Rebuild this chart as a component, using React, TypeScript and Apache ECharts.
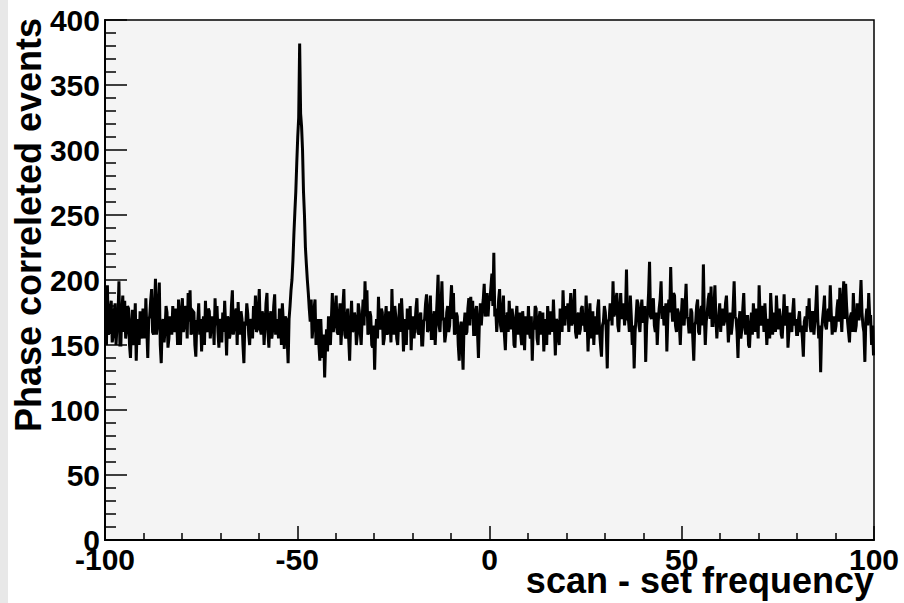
import React, { useEffect, useRef } from "react";
import * as echarts from "echarts";

const X_MIN = -100;
const X_MAX = 100;
const Y_MIN = 0;
const Y_MAX = 400;
const BIN_START = -100;
const BIN_WIDTH = 0.25;
const X_TICK_STEP = 50;
const Y_TICK_STEP = 50;
const X_TITLE = "scan - set frequency";
const Y_TITLE = "Phase correleted events";

// counts per 0.25-wide bin (10 x-units per row)
const rowA = [172,150,196,158,160,178,184,152,158,175,182,150,165,172,199,150,150,176,188,160,184,155,162,180,178,150,140,165,177,150,158,182,138,165,170,150,176,162,155,178];
const rowB = [168,155,186,162,140,170,172,184,193,160,158,178,201,158,165,182,198,150,136,165,170,152,162,180,175,148,155,172,168,158,180,164,160,178,172,150,185,166,150,175];
const rowC = [186,160,165,180,178,155,190,168,192,158,160,176,175,150,141,168,168,182,158,170,145,165,172,150,184,162,160,178,176,155,165,172,170,150,186,165,180,160,148,170];
const rowD = [168,152,175,160,184,165,142,172,170,155,160,180,192,158,165,175,178,150,183,165,158,176,170,150,136,168,165,182,174,158,150,170,168,155,180,162,188,160,162,178];
const rowE = [193,162,158,176,172,150,165,182,190,160,148,170,176,155,162,180,189,158,170,165,155,178,175,150,182,168,147,172,170,155,136,170,180,192,200,215,235,252,268,290];
const rowF = [310,325,382,328,318,300,268,250,225,212,200,190,178,168,185,155,165,178,185,150,160,170,150,138,170,150,140,158,125,150,162,145,172,155,150,170,190,160,165,178];
const rowG = [188,160,158,172,182,150,165,180,193,158,155,170,178,155,138,165,184,160,162,175,170,150,158,182,176,160,150,170,185,165,199,172,192,158,160,176,172,150,148,165];
const rowH = [131,160,170,155,187,165,162,178,175,150,155,170,180,158,160,176,168,152,193,165,158,180,172,155,150,168,182,160,186,170,145,162,170,150,178,165,162,180,146,168];
const rowI = [172,155,165,178,186,160,158,172,175,150,150,168,170,182,189,160,162,176,188,155,155,170,176,150,168,185,204,165,160,178,199,170,170,152,158,175,180,160,165,182];
const rowJ = [196,170,190,158,160,175,172,150,138,162,168,150,131,165,175,158,160,178,186,165,187,170,184,158,158,176,180,160,140,168,182,165,178,185,197,172,175,190,172,185];
const rowK = [185,195,205,180,221,172,178,160,170,185,193,165,160,176,188,158,146,170,175,160,184,168,162,178,170,150,148,172,180,158,165,175,158,150,176,165,146,172,170,158];
const rowL = [180,160,155,172,138,165,162,180,178,155,150,170,176,158,168,175,145,162,170,150,180,168,158,176,172,160,185,165,142,170,168,155,150,178,175,160,192,170,165,180];
const rowM = [170,182,160,175,190,165,168,180,193,160,155,172,175,158,162,178,180,165,170,160,188,170,145,165,182,155,165,176,150,168,172,158,178,185,160,150,141,165,168,180];
const rowN = [175,160,132,168,170,182,180,165,199,172,175,185,190,165,160,178,190,170,178,182,165,175,208,170,170,160,188,172,150,165,132,160,172,185,182,165,160,176,185,168];
const rowO = [168,180,137,165,175,190,214,172,170,182,186,165,160,175,150,168,178,185,199,170,180,165,172,182,145,170,185,175,210,180,168,190,188,165,160,178,175,165,150,172];
const rowP = [186,170,165,180,197,172,170,160,160,178,175,155,138,165,168,180,185,160,158,175,180,165,212,172,150,168,175,185,190,170,195,165,165,180,196,172,155,168,172,182];
const rowQ = [160,175,178,165,168,182,188,170,152,165,175,158,165,180,199,172,170,160,140,168,176,155,162,178,190,165,158,172,172,150,148,165,175,158,182,170,160,178,168,155];
const rowR = [196,172,165,180,178,160,182,168,150,165,170,155,190,175,158,168,175,160,188,172,162,178,172,158,155,170,189,165,168,180,148,160,175,168,160,176,186,165,170,158];
const rowS = [158,170,176,160,165,155,141,168,172,160,180,170,186,165,160,175,175,158,168,180,196,170,155,165,129,160,170,178,188,165,162,172,178,168,196,175,158,168,172,160];
const rowT = [165,178,185,168,194,175,160,182,199,170,197,180,168,160,152,172,175,160,190,170,160,165,182,170,170,182,200,175,165,160,137,170,178,165,190,172,172,150,165,142];

const counts: number[] = [
  ...rowA, ...rowB, ...rowC, ...rowD, ...rowE, ...rowF, ...rowG, ...rowH, ...rowI, ...rowJ,
  ...rowK, ...rowL, ...rowM, ...rowN, ...rowO, ...rowP, ...rowQ, ...rowR, ...rowS, ...rowT,
];

const FONT = '"Liberation Sans", Arial, Helvetica, sans-serif';

export default function App() {
  const ref = useRef<HTMLDivElement>(null);
  useEffect(() => {
    if (!ref.current) return;
    const chart = echarts.init(ref.current, undefined, { renderer: "svg" });
    const data = counts.map((v, i) => [BIN_START + BIN_WIDTH * i + BIN_WIDTH / 2, v]);
    chart.setOption({
      animation: false,
      backgroundColor: "#ffffff",
      grid: {
        left: 105,
        right: 30,
        top: 20,
        bottom: 63,
        show: true,
        backgroundColor: "#f4f4f4",
        borderColor: "#000",
        borderWidth: 1.5,
      },
      xAxis: {
        type: "value",
        min: X_MIN,
        max: X_MAX,
        interval: X_TICK_STEP,
        splitLine: { show: false },
        axisLine: { show: true, onZero: false, lineStyle: { color: "#000", width: 2 } },
        axisTick: { show: true, inside: true, length: 14, lineStyle: { color: "#000", width: 1.5 } },
        minorTick: { show: true, splitNumber: 5, length: 7, lineStyle: { color: "#000", width: 1.5 } },
        minorSplitLine: { show: false },
        axisLabel: {
          color: "#000",
          fontSize: 30,
          fontWeight: "bold",
          fontFamily: FONT,
          margin: 4,
        },
      },
      yAxis: {
        type: "value",
        min: Y_MIN,
        max: Y_MAX,
        interval: Y_TICK_STEP,
        splitLine: { show: false },
        axisLine: { show: true, onZero: false, lineStyle: { color: "#000", width: 2 } },
        axisTick: { show: true, inside: true, length: 22, lineStyle: { color: "#000", width: 1.5 } },
        minorTick: { show: true, splitNumber: 5, length: 11, lineStyle: { color: "#000", width: 1.5 } },
        minorSplitLine: { show: false },
        axisLabel: {
          color: "#000",
          fontSize: 30,
          fontWeight: "bold",
          fontFamily: FONT,
          margin: 5,
          padding: [8, 0, 0, 0],
        },
      },
      series: [
        {
          type: "line",
          data,
          showSymbol: false,
          symbol: "none",
          lineStyle: { color: "#000", width: 3, join: "miter" },
          clip: true,
        },
      ],
      graphic: [
        {
          type: "rect",
          shape: { x: 0, y: 0, width: 8, height: 603 },
          style: { fill: "#e8e8e8" },
          silent: true,
          z: -1,
        },
        {
          type: "text",
          x: 28,
          y: 225,
          rotation: Math.PI / 2,
          style: {
            text: Y_TITLE,
            fill: "#000",
            fontSize: 36,
            fontWeight: "bold",
            fontFamily: FONT,
            textAlign: "center",
            textVerticalAlign: "middle",
          },
        },
        {
          type: "text",
          x: 874,
          y: 580,
          style: {
            text: X_TITLE,
            fill: "#000",
            fontSize: 36,
            fontWeight: "bold",
            fontFamily: FONT,
            textAlign: "right",
            textVerticalAlign: "middle",
          },
        },
      ],
    });
    return () => chart.dispose();
  }, []);
  return (
    <div
      ref={ref}
      style={{ position: "fixed", left: 0, top: 0, width: 904, height: 603, background: "#fff" }}
    />
  );
}
